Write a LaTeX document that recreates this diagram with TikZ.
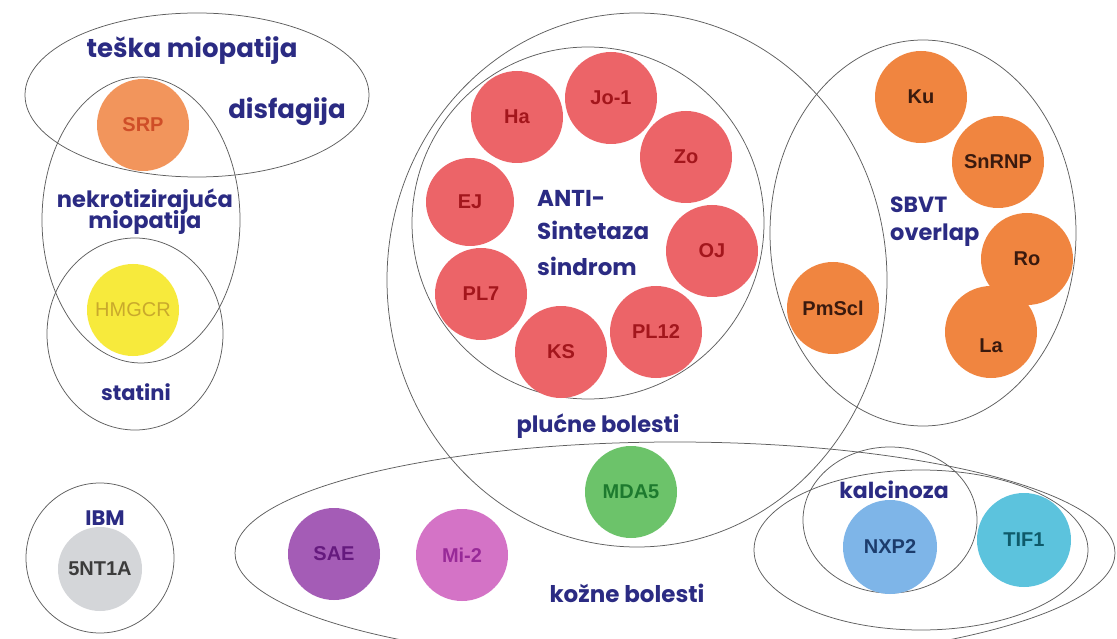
\documentclass[tikz,border=0pt]{standalone}
\usepackage{fontspec}
\setmainfont{Liberation Sans}
\newfontfamily\popfont{Poppins}
\usetikzlibrary{shapes.geometric}
\definecolor{navy}{HTML}{2B2B83}
\definecolor{ringc}{HTML}{5E5E5E}
\definecolor{redf}{HTML}{EC6468}
\definecolor{redt}{HTML}{A3161C}
\definecolor{orf}{HTML}{F08540}
\definecolor{ort}{HTML}{3A1A0E}
\definecolor{srpf}{HTML}{F2955C}
\definecolor{srpt}{HTML}{CF4E28}
\definecolor{yelf}{HTML}{F7EA3C}
\definecolor{yelt}{HTML}{C9A92C}
\definecolor{grf}{HTML}{D4D6D9}
\definecolor{grt}{HTML}{3C3C3C}
\definecolor{saef}{HTML}{A45CB6}
\definecolor{saet}{HTML}{651A7E}
\definecolor{mif}{HTML}{D473C6}
\definecolor{mit}{HTML}{982A98}
\definecolor{mdf}{HTML}{6CC36A}
\definecolor{mdt}{HTML}{1D7A2E}
\definecolor{nxf}{HTML}{7EB5E8}
\definecolor{nxt}{HTML}{1C3C6C}
\definecolor{tif}{HTML}{5CC3DD}
\definecolor{tit}{HTML}{0E5A6A}
\tikzset{
  ring/.style={draw=ringc, line width=0.75pt},
  blob/.style={circle, minimum size=92pt, inner sep=0pt, font=\bfseries\fontsize{20}{20}\selectfont},
  redc/.style={blob, fill=redf, text=redt},
  orc/.style={blob, fill=orf, text=ort},
  navyl/.style={inner sep=0pt, text=navy, font=\popfont\bfseries\fontsize{#1}{#1}\selectfont},
  navyl/.default=22
}
\begin{document}
\begin{tikzpicture}[x=1pt,y=-1pt]
\useasboundingbox[fill=white] (0,0) rectangle (1117,639);
% region outlines
\coordinate (eTop) at (197,95);
\coordinate (eNec) at (141,220);
\coordinate (eSta) at (135,334);
\coordinate (eIBM) at (100,558);
\coordinate (eLung) at (637,280);
\coordinate (eAnti) at (588,223);
\coordinate (eSBVT) at (923,233);
\coordinate (eSkin) at (675,553);
\coordinate (eDM) at (921,550);
\coordinate (eCalc) at (890,520);
\draw[ring] (eTop) ellipse [x radius=172pt, y radius=82pt];
\draw[ring] (eNec) ellipse [x radius=99pt, y radius=143pt];
\draw[ring] (eSta) ellipse [x radius=88pt, y radius=96pt];
\draw[ring] (eIBM) ellipse [x radius=74pt, y radius=75pt];
\draw[ring] (eLung) ellipse [x radius=250pt, y radius=267pt];
\draw[ring] (eAnti) circle [radius=176pt];
\draw[ring] (eSBVT) ellipse [x radius=153pt, y radius=193pt];
\draw[ring] (eSkin) ellipse [x radius=440pt, y radius=111pt];
\draw[ring] (eDM) ellipse [x radius=167pt, y radius=80pt];
\draw[ring] (eCalc) ellipse [x radius=87pt, y radius=73pt];
% antibody circles
\node[blob, fill=srpf, text=srpt] (SRP) at (143,125) {SRP};
\node[blob, fill=yelf, text=yelt, font=\fontsize{20}{20}\selectfont] (HMGCR) at (133,310) {HMGCR};
\node[blob, fill=grf, text=grt, minimum size=84pt] (NT) at (100,569) {5NT1A};
\node[redc] (Ha) at (517,117) {Ha};
\node[redc] (Jo) at (611,98) {Jo-1};
\node[redc] (Zo) at (686,157) {Zo};
\node[redc, minimum size=88pt] (EJ) at (470,202) {EJ};
\node[redc] (OJ) at (712,251) {OJ};
\node[redc] (PL7) at (481,294) {PL7};
\node[redc] (KS) at (561,352) {KS};
\node[redc] (PL12) at (656,332) {PL12};
\node[orc] (Ku) at (921,97) {Ku};
\node[orc] (SnRNP) at (998,162) {SnRNP};
\node[orc] (Ro) at (1027,259) {Ro};
\node[orc] (La) at (991,332) {};
\node[inner sep=0pt, text=ort, font=\bfseries\fontsize{20}{20}\selectfont] (LaT) at ([yshift=-14pt]La.center) {La};
\node[orc] (PmScl) at (833,308) {PmScl};
\node[blob, fill=mdf, text=mdt] (MDA5) at (631,492) {MDA5};
\node[blob, fill=saef, text=saet] (SAE) at (334,554) {SAE};
\node[blob, fill=mif, text=mit] (Mi2) at (462,555) {Mi-2};
\node[blob, fill=nxf, text=nxt, minimum size=94pt] (NXP2) at (890,547) {NXP2};
\node[blob, fill=tif, text=tit, minimum size=94pt] (TIF1) at (1024,540) {TIF1};
% group labels
\node[navyl=26, anchor=base] (tTeska) at (192,58) {teška miopatija};
\node[navyl=26, anchor=base] (tDisf) at (287,119) {disfagija};
\node[navyl=22.5, anchor=base] (tNek1) at (145,208) {nekrotizirajuća};
\node[navyl=22.5, anchor=base] (tNek2) at (145,229) {miopatija};
\node[navyl=21, anchor=base] (tStat) at (136,400) {statini};
\node[navyl=23, anchor=base west] (tAnti1) at (537,207) {ANTI-};
\node[navyl=23, anchor=base west] (tAnti2) at (537,240) {Sintetaza};
\node[navyl=23, anchor=base west] (tAnti3) at (537,276) {sindrom};
\node[navyl=22.5, anchor=base] (tPluc) at (598,432) {plućne bolesti};
\node[navyl=22, anchor=base west] (tSBVT1) at (890,213) {SBVT};
\node[navyl=22.5, anchor=base west] (tSBVT2) at (890,241) {overlap};
\node[navyl=21, anchor=base] (tIBM) at (105,525) {IBM};
\node[navyl=23, anchor=base] (tKoz) at (627,602) {kožne bolesti};
\node[navyl=22, anchor=base] (tKalc) at (894,498) {kalcinoza};
\end{tikzpicture}
\end{document}
